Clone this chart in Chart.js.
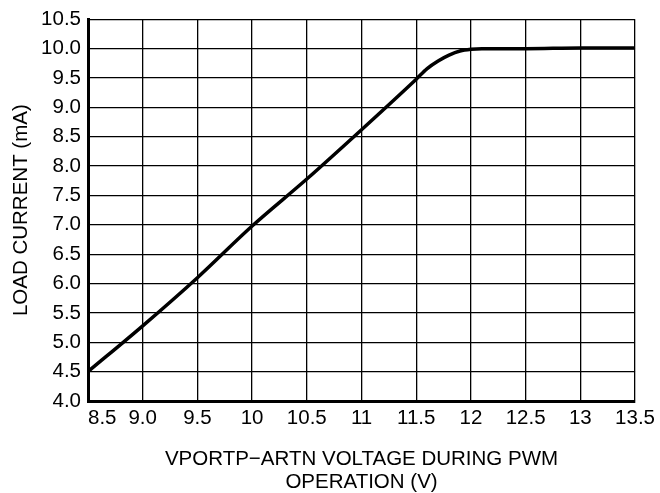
<!DOCTYPE html>
<html>
<head>
<meta charset="utf-8">
<script src="https://cdn.jsdelivr.net/npm/chart.js@4"></script>
<style>
  html, body { margin: 0; padding: 0; background: #fff; }
  #wrap { width: 660px; height: 493px; }
</style>
</head>
<body>
<div id="wrap"><canvas id="myChart"></canvas></div>
<script>
// dados
const voltage = [8.5, 9.0, 9.5, 10.0, 10.5, 11.0, 11.5, 11.6, 11.7, 11.8, 11.9, 12.0, 12.1, 12.5, 13.0, 13.5];
const loadCurrent = [4.5, 5.28, 6.1, 6.98, 7.78, 8.62, 9.48, 9.66, 9.79, 9.89, 9.96, 9.99, 10.0, 10.0, 10.01, 10.01];

// rótulos dos eixos
const xTickLabels = ['     8.5', '9.0', '9.5', '10', '10.5', '11', '11.5', '12', '12.5', '13', '13.5'];
const yTickLabels = ['4.0', '4.5', '5.0', '5.5', '6.0', '6.5', '7.0', '7.5', '8.0', '8.5', '9.0', '9.5', '10.0', '10.5'];

const fontFamily = '"Liberation Sans", Arial, sans-serif';
const ctx = document.getElementById('myChart').getContext('2d');

const myChart = new Chart(ctx, {
    type: 'line',
    data: {
        datasets: [{
            data: voltage.map((v, i) => ({ x: v, y: loadCurrent[i] })),
            borderColor: '#000',
            borderWidth: 3.5,
            pointRadius: 0,
            cubicInterpolationMode: 'monotone',
            fill: false
        }]
    },
    options: {
        responsive: true,
        maintainAspectRatio: false,
        animation: false,
        layout: { padding: { top: 16, right: 24, left: 0, bottom: 0 } },
        plugins: {
            legend: { display: false },
            tooltip: { enabled: false }
        },
        scales: {
            x: {
                type: 'linear',
                min: 8.5,
                max: 13.5,
                afterFit: (scale) => { scale.height = 92; },
                ticks: {
                    stepSize: 0.5,
                    color: '#000',
                    padding: 5,
                    maxRotation: 0,
                    autoSkip: false,
                    font: { family: fontFamily, size: 20.5 },
                    callback: (value, index) => xTickLabels[index]
                },
                grid: { color: '#000', lineWidth: 1.3, drawTicks: false },
                border: { display: true, color: '#000', width: 3 },
                title: {
                    display: true,
                    text: ['VPORTP\u2212ARTN VOLTAGE DURING PWM', 'OPERATION (V)'],
                    color: '#000',
                    padding: { top: 0, bottom: 0 },
                    font: { family: fontFamily, size: 20.5, lineHeight: 1.08 }
                }
            },
            y: {
                min: 4,
                max: 10.5,
                afterFit: (scale) => { scale.width = 88; },
                ticks: {
                    stepSize: 0.5,
                    color: '#000',
                    padding: 7,
                    autoSkip: false,
                    font: { family: fontFamily, size: 20.5 },
                    callback: (value, index) => yTickLabels[index]
                },
                grid: { color: '#000', lineWidth: 1.3, drawTicks: false },
                border: { display: true, color: '#000', width: 3 },
                title: {
                    display: true,
                    text: 'LOAD CURRENT (mA)',
                    color: '#000',
                    padding: { top: 10, bottom: 0 },
                    font: { family: fontFamily, size: 20.5, lineHeight: 1.08 }
                }
            }
        }
    }
});
</script>
</body>
</html>
